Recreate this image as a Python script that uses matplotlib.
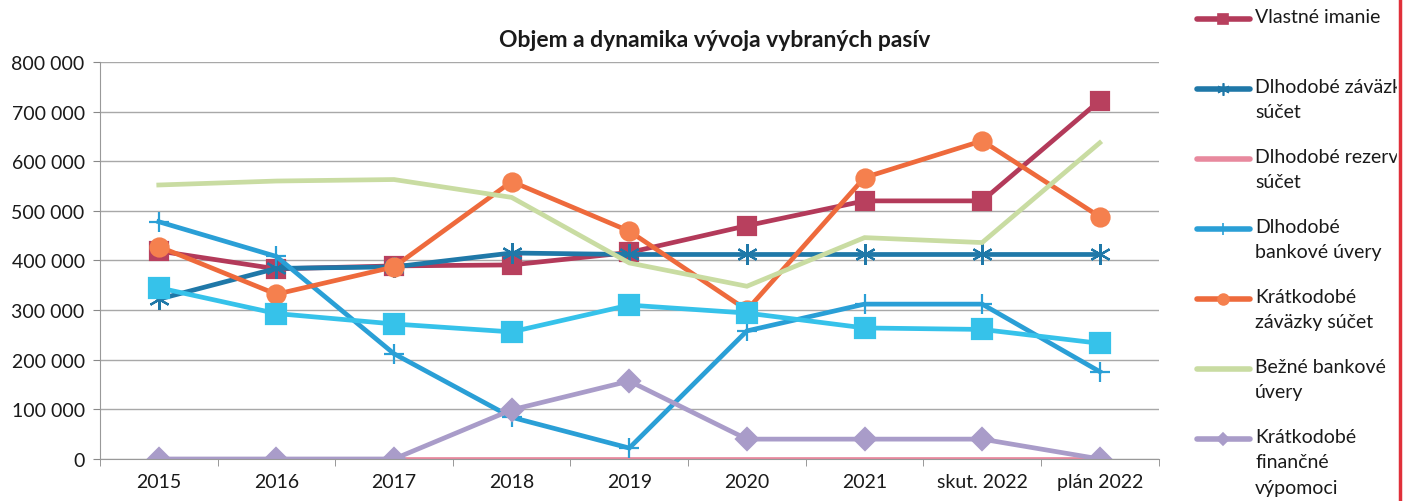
import numpy as np
import matplotlib.pyplot as plt
from matplotlib.lines import Line2D
from matplotlib.ticker import FixedLocator, FuncFormatter

plt.rcParams['font.family'] = ['Lato', 'DejaVu Sans']

# Categories (years)
years = ['2015', '2016', '2017', '2018', '2019', '2020', '2021', 'skut. 2022', 'plán 2022']

# Series values
vlastne_imanie = [419000, 383000, 389000, 391000, 416000, 470000, 520000, 520000, 722000]
dlh_zavazky = [322000, 384000, 387000, 415000, 412000, 412000, 412000, 412000, 412000]
dlh_rezervy = [0, 0, 0, 0, 0, 0, 0, 0, 0]
dlh_bank_uvery = [478000, 408000, 212000, 84000, 22000, 258000, 312000, 312000, 176000]
kratk_zavazky = [428000, 332000, 387000, 559000, 459000, 300000, 567000, 641000, 488000]
bezne_uvery = [552000, 560000, 563000, 527000, 395000, 348000, 446000, 436000, 637000]
kratk_vypomoci = [0, 0, 0, 99000, 157000, 40000, 40000, 40000, 0]
ostatne = [345000, 293000, 272000, 256000, 310000, 294000, 264000, 261000, 233000]

# (label, values, line colour, marker, marker colour, marker size)
series = [
    ('Vlastné imanie', vlastne_imanie, '#B33A5A', 's', '#B8405E', 13),
    ('Dlhodobé záväzky\nsúčet', dlh_zavazky, '#1F78A8', (6, 2, 0), '#1F78A8', 15),
    ('Dlhodobé rezervy\nsúčet', dlh_rezervy, '#E8899E', None, None, 0),
    ('Dlhodobé\nbankové úvery', dlh_bank_uvery, '#2A9FD6', '+', '#2A9FD6', 15),
    ('Krátkodobé\nzáväzky súčet', kratk_zavazky, '#EE6A3C', 'o', '#F5804E', 13),
    ('Bežné bankové\núvery', bezne_uvery, '#C9DCA2', None, None, 0),
    ('Krátkodobé\nfinančné\nvýpomoci', kratk_vypomoci, '#A99CC9', 'D', '#A99CC9', 11),
    ('Ostatné pasíva', ostatne, '#36C2EA', 's', '#36C2EA', 14),
]

fig = plt.figure(figsize=(14.04, 5.02), dpi=100)
ax = fig.add_axes([0.0712, 0.0837, 0.754, 0.791])

x = np.arange(len(years))
for label, vals, col, mk, mcol, ms in series:
    ax.plot(x, vals, color=col, lw=3.4, marker=mk, markersize=ms,
            markerfacecolor=mcol, markeredgecolor=mcol, markeredgewidth=1.6,
            solid_joinstyle='miter')

ax.set_xlim(-0.5, len(years) - 0.5)
ax.set_ylim(0, 800000)
ax.set_yticks(np.arange(0, 800001, 100000))
ax.yaxis.set_major_formatter(FuncFormatter(lambda v, p: f'{int(v):,}'.replace(',', ' ')))
ax.set_xticks(x)
ax.set_xticklabels(years)
ax.xaxis.set_minor_locator(FixedLocator(np.arange(-0.5, len(years), 1.0)))
ax.tick_params(axis='x', which='major', length=0, pad=10, labelsize=14, colors='#1a1a1a')
ax.tick_params(axis='x', which='minor', length=5, color='#888888')
ax.tick_params(axis='y', length=5, color='#888888', labelsize=14, labelcolor='#1a1a1a', pad=6)

ax.grid(axis='y', color='#A8A8A8', lw=1)
ax.set_axisbelow(True)
for s in ['top', 'right']:
    ax.spines[s].set_visible(False)
ax.spines['left'].set_color('#999999')
ax.spines['bottom'].set_color('#999999')

fig.text(0.509, 0.92, 'Objem a dynamika vývoja vybraných pasív', ha='center', va='center',
         fontsize=16.5, fontweight='bold', color='#1a1a1a')

# legend drawn by hand, equal-height entries like the original
W, H = 1404, 502
for i, (label, vals, col, mk, mcol, ms) in enumerate(series):
    yp = 20 + 70 * i
    if yp > H:
        continue  # below the visible edge, as in the original crop
    yf = 1 - yp / H
    fig.add_artist(Line2D([1197 / W, 1250 / W], [yf, yf], color=col, lw=4,
                          transform=fig.transFigure, solid_capstyle='round'))
    if mk is not None:
        fig.add_artist(Line2D([1223 / W], [yf], marker=mk, markersize=ms * 0.6,
                              color=mcol, markeredgewidth=1.2, transform=fig.transFigure))
    fig.text(1255 / W, yf + 11 / H, label, ha='left', va='top', fontsize=14,
             linespacing=1.6, color='#1a1a1a')

# scan edge on the right
fig.add_artist(plt.Rectangle((1397 / W, 0), 7 / W, 1, color='white', transform=fig.transFigure, zorder=10))
fig.add_artist(Line2D([1400 / W, 1400 / W], [0, 1], color='#E0303A', lw=2.5,
                      transform=fig.transFigure, zorder=11))

fig.savefig('out.png', dpi=100)
